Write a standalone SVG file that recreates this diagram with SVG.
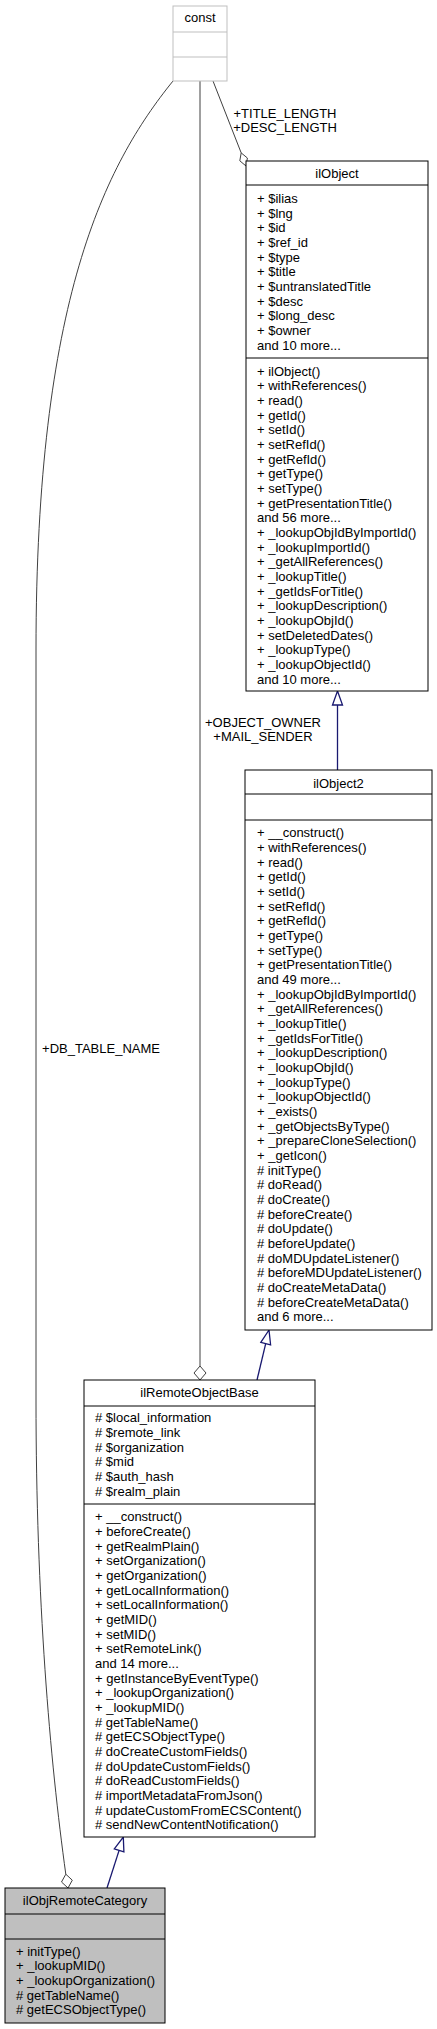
<svg xmlns="http://www.w3.org/2000/svg" width="437" height="2029" viewBox="0 0 437 2029">
<style>
text{font-family:"Liberation Sans",Arial,Helvetica,sans-serif;font-size:13px;fill:#000}
.t{text-anchor:middle}
.box{fill:#fff;stroke:#000;stroke-width:1}
.cbox{fill:#fff;stroke:#bfbfbf;stroke-width:1}
.gbox{fill:#bfbfbf;stroke:#000;stroke-width:1}
.sep{stroke:#000;stroke-width:1}
.csep{stroke:#bfbfbf;stroke-width:1}
.use{fill:none;stroke:#404040;stroke-width:1}
.dia{fill:#fff;stroke:#404040;stroke-width:1}
.inh{fill:none;stroke:#191970;stroke-width:1.3}
.tri{fill:#fff;stroke:#191970;stroke-width:1.3}
</style>
<g id="connectors">
<path class="use" d="M213,81 L241.2,152.9"/>
<polygon class="dia" points="246,166 247.4,158 241.2,152.9 239.8,160.8"/>
<text class="t" x="285" y="118">+TITLE_LENGTH</text>
<text class="t" x="285" y="131.5">+DESC_LENGTH</text>
<path class="use" d="M200,81 L200,1366"/>
<polygon class="dia" points="200,1366 206,1373 200,1380 194,1373"/>
<text class="t" x="263" y="727">+OBJECT_OWNER</text>
<text class="t" x="263" y="741">+MAIL_SENDER</text>
<path class="use" d="M173,81 C105,165 36,300 36,650 L36,1400 C36,1600 50,1760 65.8,1874.2"/>
<polygon class="dia" points="68,1888 72.3,1880.2 65.8,1874.2 61.5,1882"/>
<text class="t" x="101" y="1053">+DB_TABLE_NAME</text>
<path class="inh" d="M337.5,770 L337.5,705"/>
<polygon class="tri" points="337.5,691 342.5,705 332.5,705"/>
<path class="inh" d="M257,1380 L265.7,1343.6"/>
<polygon class="tri" points="269,1330 270.6,1344.8 260.8,1342.4"/>
<path class="inh" d="M107,1888 L119.1,1850.4"/>
<polygon class="tri" points="123.3,1837 123.9,1851.9 114.3,1848.9"/>
</g>
<g id="const">
<rect class="cbox" x="173" y="6" width="54" height="75"/>
<line class="csep" x1="173" y1="32" x2="227" y2="32"/>
<line class="csep" x1="173" y1="57" x2="227" y2="57"/>
<text class="t" x="200" y="22">const</text>
</g>
<g id="ilObject">
<rect class="box" x="246" y="161" width="182" height="530"/>
<line class="sep" x1="246" y1="185" x2="428" y2="185"/>
<line class="sep" x1="246" y1="358" x2="428" y2="358"/>
<text class="t" x="337" y="178">ilObject</text>
<text x="257" y="203"><tspan x="257">+ $ilias</tspan><tspan x="257" dy="14.67">+ $lng</tspan><tspan x="257" dy="14.67">+ $id</tspan><tspan x="257" dy="14.67">+ $ref_id</tspan><tspan x="257" dy="14.67">+ $type</tspan><tspan x="257" dy="14.67">+ $title</tspan><tspan x="257" dy="14.67">+ $untranslatedTitle</tspan><tspan x="257" dy="14.67">+ $desc</tspan><tspan x="257" dy="14.67">+ $long_desc</tspan><tspan x="257" dy="14.67">+ $owner</tspan><tspan x="257" dy="14.67">and 10 more...</tspan></text>
<text x="257" y="375.5"><tspan x="257">+ ilObject()</tspan><tspan x="257" dy="14.67">+ withReferences()</tspan><tspan x="257" dy="14.67">+ read()</tspan><tspan x="257" dy="14.67">+ getId()</tspan><tspan x="257" dy="14.67">+ setId()</tspan><tspan x="257" dy="14.67">+ setRefId()</tspan><tspan x="257" dy="14.67">+ getRefId()</tspan><tspan x="257" dy="14.67">+ getType()</tspan><tspan x="257" dy="14.67">+ setType()</tspan><tspan x="257" dy="14.67">+ getPresentationTitle()</tspan><tspan x="257" dy="14.67">and 56 more...</tspan><tspan x="257" dy="14.67">+ _lookupObjIdByImportId()</tspan><tspan x="257" dy="14.67">+ _lookupImportId()</tspan><tspan x="257" dy="14.67">+ _getAllReferences()</tspan><tspan x="257" dy="14.67">+ _lookupTitle()</tspan><tspan x="257" dy="14.67">+ _getIdsForTitle()</tspan><tspan x="257" dy="14.67">+ _lookupDescription()</tspan><tspan x="257" dy="14.67">+ _lookupObjId()</tspan><tspan x="257" dy="14.67">+ setDeletedDates()</tspan><tspan x="257" dy="14.67">+ _lookupType()</tspan><tspan x="257" dy="14.67">+ _lookupObjectId()</tspan><tspan x="257" dy="14.67">and 10 more...</tspan></text>
</g>
<g id="ilObject2">
<rect class="box" x="245" y="770" width="187" height="560"/>
<line class="sep" x1="245" y1="794" x2="432" y2="794"/>
<line class="sep" x1="245" y1="820" x2="432" y2="820"/>
<text class="t" x="338.5" y="788">ilObject2</text>
<text x="257" y="837.2"><tspan x="257">+ __construct()</tspan><tspan x="257" dy="14.67">+ withReferences()</tspan><tspan x="257" dy="14.67">+ read()</tspan><tspan x="257" dy="14.67">+ getId()</tspan><tspan x="257" dy="14.67">+ setId()</tspan><tspan x="257" dy="14.67">+ setRefId()</tspan><tspan x="257" dy="14.67">+ getRefId()</tspan><tspan x="257" dy="14.67">+ getType()</tspan><tspan x="257" dy="14.67">+ setType()</tspan><tspan x="257" dy="14.67">+ getPresentationTitle()</tspan><tspan x="257" dy="14.67">and 49 more...</tspan><tspan x="257" dy="14.67">+ _lookupObjIdByImportId()</tspan><tspan x="257" dy="14.67">+ _getAllReferences()</tspan><tspan x="257" dy="14.67">+ _lookupTitle()</tspan><tspan x="257" dy="14.67">+ _getIdsForTitle()</tspan><tspan x="257" dy="14.67">+ _lookupDescription()</tspan><tspan x="257" dy="14.67">+ _lookupObjId()</tspan><tspan x="257" dy="14.67">+ _lookupType()</tspan><tspan x="257" dy="14.67">+ _lookupObjectId()</tspan><tspan x="257" dy="14.67">+ _exists()</tspan><tspan x="257" dy="14.67">+ _getObjectsByType()</tspan><tspan x="257" dy="14.67">+ _prepareCloneSelection()</tspan><tspan x="257" dy="14.67">+ _getIcon()</tspan><tspan x="257" dy="14.67"># initType()</tspan><tspan x="257" dy="14.67"># doRead()</tspan><tspan x="257" dy="14.67"># doCreate()</tspan><tspan x="257" dy="14.67"># beforeCreate()</tspan><tspan x="257" dy="14.67"># doUpdate()</tspan><tspan x="257" dy="14.67"># beforeUpdate()</tspan><tspan x="257" dy="14.67"># doMDUpdateListener()</tspan><tspan x="257" dy="14.67"># beforeMDUpdateListener()</tspan><tspan x="257" dy="14.67"># doCreateMetaData()</tspan><tspan x="257" dy="14.67"># beforeCreateMetaData()</tspan><tspan x="257" dy="14.67">and 6 more...</tspan></text>
</g>
<g id="ilRemoteObjectBase">
<rect class="box" x="84" y="1380" width="231" height="457"/>
<line class="sep" x1="84" y1="1406" x2="315" y2="1406"/>
<line class="sep" x1="84" y1="1504" x2="315" y2="1504"/>
<text class="t" x="199.5" y="1397">ilRemoteObjectBase</text>
<text x="95" y="1422.2"><tspan x="95"># $local_information</tspan><tspan x="95" dy="14.67"># $remote_link</tspan><tspan x="95" dy="14.67"># $organization</tspan><tspan x="95" dy="14.67"># $mid</tspan><tspan x="95" dy="14.67"># $auth_hash</tspan><tspan x="95" dy="14.67"># $realm_plain</tspan></text>
<text x="95" y="1521.2"><tspan x="95">+ __construct()</tspan><tspan x="95" dy="14.67">+ beforeCreate()</tspan><tspan x="95" dy="14.67">+ getRealmPlain()</tspan><tspan x="95" dy="14.67">+ setOrganization()</tspan><tspan x="95" dy="14.67">+ getOrganization()</tspan><tspan x="95" dy="14.67">+ getLocalInformation()</tspan><tspan x="95" dy="14.67">+ setLocalInformation()</tspan><tspan x="95" dy="14.67">+ getMID()</tspan><tspan x="95" dy="14.67">+ setMID()</tspan><tspan x="95" dy="14.67">+ setRemoteLink()</tspan><tspan x="95" dy="14.67">and 14 more...</tspan><tspan x="95" dy="14.67">+ getInstanceByEventType()</tspan><tspan x="95" dy="14.67">+ _lookupOrganization()</tspan><tspan x="95" dy="14.67">+ _lookupMID()</tspan><tspan x="95" dy="14.67"># getTableName()</tspan><tspan x="95" dy="14.67"># getECSObjectType()</tspan><tspan x="95" dy="14.67"># doCreateCustomFields()</tspan><tspan x="95" dy="14.67"># doUpdateCustomFields()</tspan><tspan x="95" dy="14.67"># doReadCustomFields()</tspan><tspan x="95" dy="14.67"># importMetadataFromJson()</tspan><tspan x="95" dy="14.67"># updateCustomFromECSContent()</tspan><tspan x="95" dy="14.67"># sendNewContentNotification()</tspan></text>
</g>
<g id="ilObjRemoteCategory">
<rect class="gbox" x="5" y="1888" width="160" height="135"/>
<line class="sep" x1="5" y1="1914" x2="165" y2="1914"/>
<line class="sep" x1="5" y1="1939" x2="165" y2="1939"/>
<text class="t" x="85" y="1905">ilObjRemoteCategory</text>
<text x="16" y="1955.5"><tspan x="16">+ initType()</tspan><tspan x="16" dy="14.67">+ _lookupMID()</tspan><tspan x="16" dy="14.67">+ _lookupOrganization()</tspan><tspan x="16" dy="14.67"># getTableName()</tspan><tspan x="16" dy="14.67"># getECSObjectType()</tspan></text>
</g>
</svg>
